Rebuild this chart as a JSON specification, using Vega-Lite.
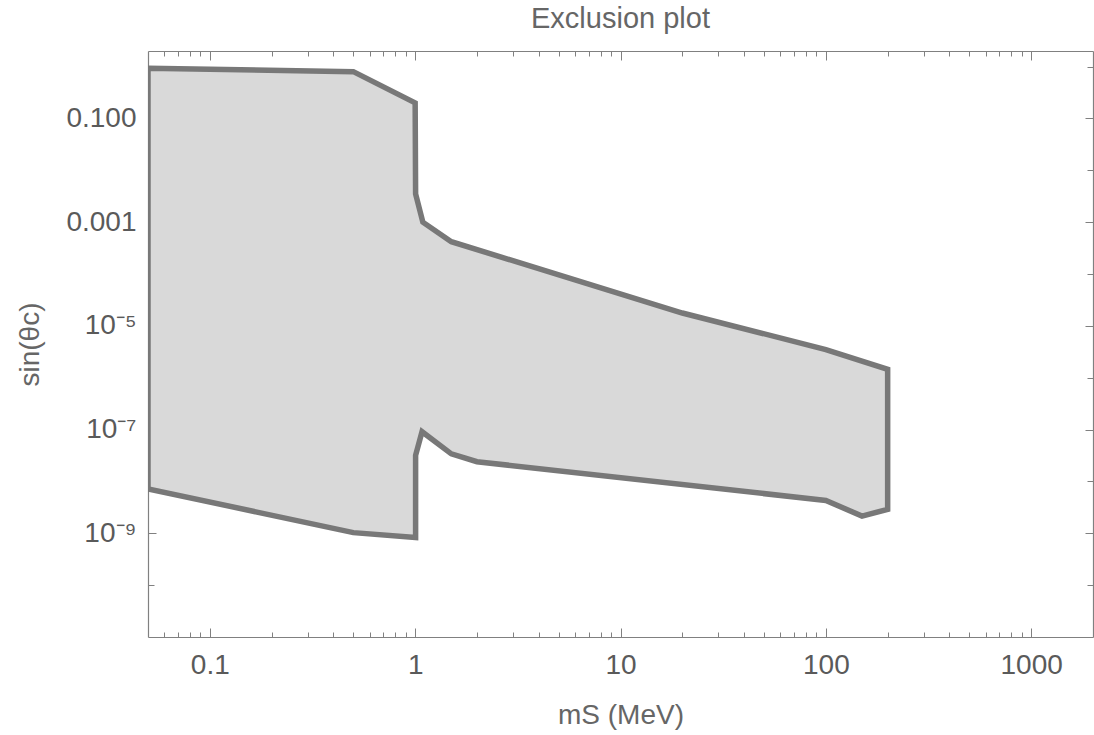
{
  "$schema": "https://vega.github.io/schema/vega-lite/v6.json",
  "width": 945,
  "height": 586,
  "autosize": {"type": "none"},
  "padding": {"left": 148, "top": 51, "right": 1, "bottom": 98},
  "background": "white",
  "title": {"text": "Exclusion plot", "fontSize": 29, "font": "Liberation Sans", "fontWeight": "normal", "color": "#666666", "anchor": "middle", "baseline": "alphabetic", "offset": -6},
  "data": {"values": [
    {"i": 1, "m": 0.05, "s": 0.93},
    {"i": 2, "m": 0.5, "s": 0.80},
    {"i": 3, "m": 1.0, "s": 0.20},
    {"i": 4, "m": 1.005, "s": 0.0035},
    {"i": 5, "m": 1.09, "s": 0.0010},
    {"i": 6, "m": 1.5, "s": 0.00042},
    {"i": 7, "m": 20, "s": 0.0000177},
    {"i": 8, "m": 100, "s": 0.0000035},
    {"i": 9, "m": 200, "s": 0.00000145},
    {"i": 10, "m": 200, "s": 2.9e-9},
    {"i": 11, "m": 150, "s": 2.15e-9},
    {"i": 12, "m": 100, "s": 4.3e-9},
    {"i": 13, "m": 2, "s": 2.4e-8},
    {"i": 14, "m": 1.5, "s": 3.4e-8},
    {"i": 15, "m": 1.08, "s": 9.1e-8},
    {"i": 16, "m": 1.005, "s": 3.2e-8},
    {"i": 17, "m": 1.005, "s": 8.3e-10},
    {"i": 18, "m": 0.5, "s": 1.03e-9},
    {"i": 19, "m": 0.05, "s": 7.2e-9}
  ]},
  "layer": [
    {
      "mark": {"type": "line", "interpolate": "linear-closed", "fill": "#d9d9d9", "stroke": "#787878", "strokeWidth": 5.5, "strokeJoin": "miter", "clip": true},
      "encoding": {
        "x": {"field": "m", "type": "quantitative",
          "scale": {"type": "log", "domain": [0.05, 2000], "nice": false},
          "axis": {"orient": "bottom", "title": "mS (MeV)",
            "values": [0.06,0.07,0.08,0.09,0.1,0.2,0.3,0.4,0.5,0.6,0.7,0.8,0.9,1,2,3,4,5,6,7,8,9,10,20,30,40,50,60,70,80,90,100,200,300,400,500,600,700,800,900,1000],
            "labelExpr": "indexof([0.1,1,10,100,1000], datum.value) >= 0 ? '' + datum.value : ''",
            "tickSize": {"condition": {"test": "indexof([0.1,1,10,100,1000], datum.value) >= 0", "value": -9}, "value": -5},
            "labelPadding": 23, "labelFlush": false, "labelOverlap": false, "labelBound": false}},
        "y": {"field": "s", "type": "quantitative",
          "scale": {"type": "log", "domain": [1e-11, 2], "nice": false},
          "axis": {"orient": "left", "title": "sin(θc)",
            "values": [1e-10,1e-9,1e-8,1e-7,1e-6,1e-5,1e-4,1e-3,1e-2,1e-1,1],
            "labelExpr": "round(log(datum.value)/LN10) == -1 ? '0.100' : round(log(datum.value)/LN10) == -3 ? '0.001' : round(log(datum.value)/LN10) == -5 ? '10⁻⁵' : round(log(datum.value)/LN10) == -7 ? '10⁻⁷' : round(log(datum.value)/LN10) == -9 ? '10⁻⁹' : ''",
            "tickSize": {"condition": {"test": "indexof([-1,-3,-5,-7,-9], round(log(datum.value)/LN10)) >= 0", "value": -8}, "value": -6},
            "labelPadding": 20, "labelFlush": false, "labelOverlap": false, "labelBound": false}},
        "order": {"field": "i", "type": "quantitative"}
      }
    },
    {
      "mark": {"type": "line", "interpolate": "linear-closed", "opacity": 0},
      "encoding": {
        "x": {"field": "m", "type": "quantitative",
          "axis": {"orient": "top", "title": null, "labels": false,
            "values": [0.06,0.07,0.08,0.09,0.1,0.2,0.3,0.4,0.5,0.6,0.7,0.8,0.9,1,2,3,4,5,6,7,8,9,10,20,30,40,50,60,70,80,90,100,200,300,400,500,600,700,800,900,1000],
            "tickSize": {"condition": {"test": "indexof([0.1,1,10,100,1000], datum.value) >= 0", "value": -9}, "value": -5}}},
        "y": {"field": "s", "type": "quantitative",
          "axis": {"orient": "right", "title": null, "labels": false,
            "values": [1e-10,1e-9,1e-8,1e-7,1e-6,1e-5,1e-4,1e-3,1e-2,1e-1,1],
            "tickSize": {"condition": {"test": "indexof([-1,-3,-5,-7,-9], round(log(datum.value)/LN10)) >= 0", "value": -8}, "value": -6}}},
        "order": {"field": "i", "type": "quantitative"}
      }
    }
  ],
  "resolve": {"axis": {"x": "independent", "y": "independent"}},
  "config": {
    "view": {"stroke": null},
    "axis": {
      "domainColor": "#808080", "domainWidth": 1.2,
      "tickColor": "#808080", "tickWidth": 1,
      "labelFont": "Liberation Sans", "labelFontSize": 28, "labelColor": "#5a5a5a",
      "titleFont": "Liberation Sans", "titleFontSize": 28, "titleColor": "#666666", "titleFontWeight": "normal",
      "grid": false
    },
    "axisBottom": {"titlePadding": 18},
    "axisLeft": {"titlePadding": 21}
  }
}
